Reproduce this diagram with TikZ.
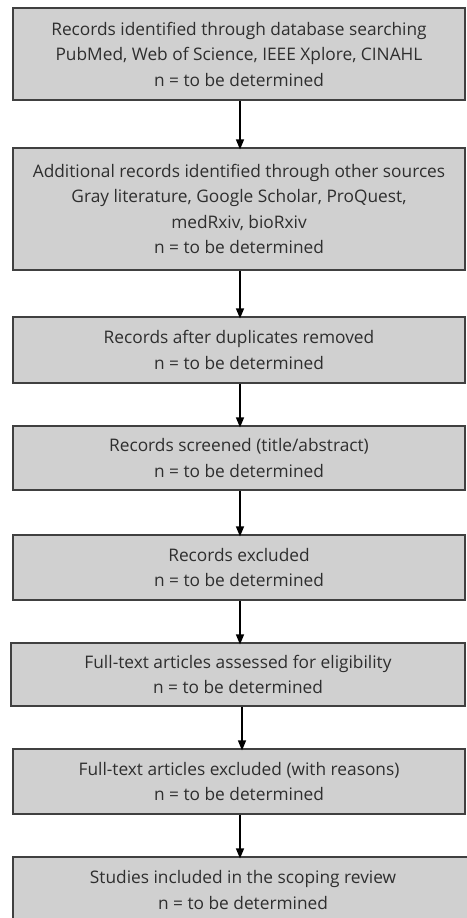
\documentclass[tikz,border=0pt]{standalone}
\usepackage{fontspec}
\setmainfont{Open Sans}[Ligatures=NoCommon]
\usetikzlibrary{arrows.meta}
\definecolor{boxfill}{HTML}{D0D0D0}
\definecolor{boxdraw}{HTML}{404040}
\definecolor{txt}{HTML}{2E2E2E}
\tikzset{
  box/.style={draw=boxdraw, fill=boxfill, line width=1.2pt, rectangle, inner sep=0pt,
    minimum width=452pt, align=center, text=txt,
    font=\fontsize{17.3}{25.5}\selectfont},
  arr/.style={line width=1.4pt, -{Triangle[width=8pt,length=10pt]}}
}
\begin{document}
\begin{tikzpicture}[x=1pt,y=-1pt]
\useasboundingbox (0,0) rectangle (466,918);
\fill[white] (0,0) rectangle (466,918);
\node[box, minimum height=92pt] (b1) at (239,54) {Records identified through database searching\\PubMed, Web of Science, IEEE Xplore, CINAHL\\n = to be determined};
\node[box, minimum height=122pt] (b2) at (239,209) {Additional records identified through other sources\\Gray literature, Google Scholar, ProQuest,\\medRxiv, bioRxiv\\n = to be determined};
\node[box, minimum height=66pt] (b3) at (239,350) {Records after duplicates removed\\n = to be determined};
\node[box, minimum height=64pt] (b4) at (239,458) {Records screened (title/abstract)\\n = to be determined};
\node[box, minimum height=65pt] (b5) at (239,567.5) {Records excluded\\n = to be determined};
\node[box, minimum height=63pt, minimum width=454pt] (b6) at (238,674.5) {Full-text articles assessed for eligibility\\n = to be determined};
\node[box, minimum height=65pt] (b7) at (239,781.5) {Full-text articles excluded (with reasons)\\n = to be determined};
\node[box, minimum height=66pt, minimum width=460pt] (b8) at (243,890) {Studies included in the scoping review\\n = to be determined};
\draw[arr] (b1.south -| 240,0) -- ([yshift=-2pt]b2.north -| 240,0);
\draw[arr] (b2.south -| 240,0) -- ([yshift=-2pt]b3.north -| 240,0);
\draw[arr] (b3.south -| 240,0) -- ([yshift=-2pt]b4.north -| 240,0);
\draw[arr] (b4.south -| 240,0) -- ([yshift=-2pt]b5.north -| 240,0);
\draw[arr] (b5.south -| 240,0) -- ([yshift=-2pt]b6.north -| 240,0);
\draw[arr] (b6.south -| 242,0) -- ([yshift=-2pt]b7.north -| 242,0);
\draw[arr] (b7.south -| 240,0) -- ([yshift=-2pt]b8.north -| 240,0);
\end{tikzpicture}
\end{document}
